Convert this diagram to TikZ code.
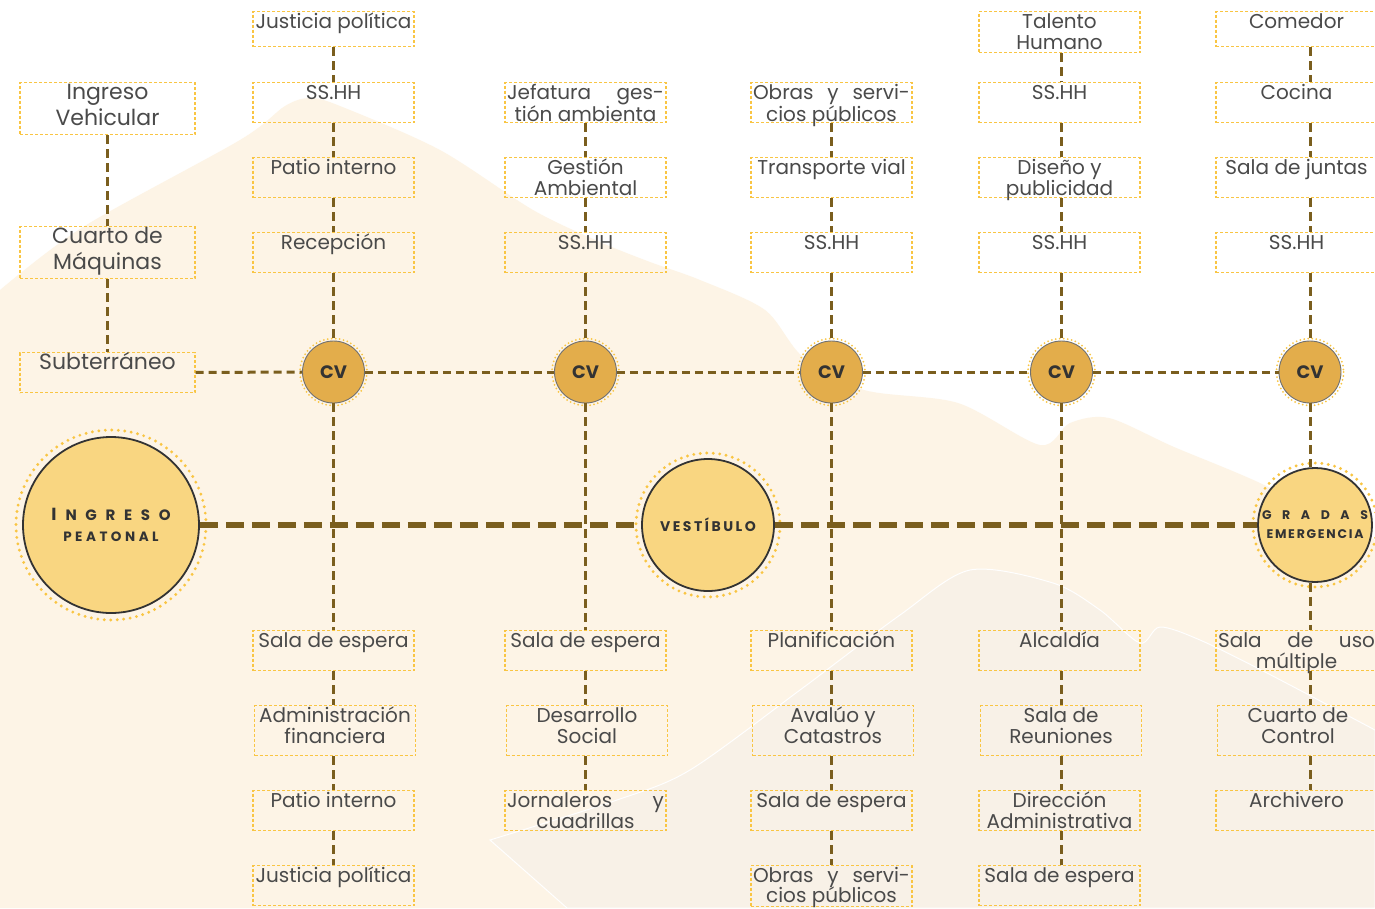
\documentclass[tikz,border=0pt]{standalone}
\usepackage{fontspec}
\setmainfont{Poppins}
\newfontfamily\letrero{Poppins}

\definecolor{crema}{HTML}{FDF4E6}
\definecolor{cremaclaro}{HTML}{F8F1E7}
\definecolor{amarillo}{HTML}{F9C543}
\definecolor{cafe}{HTML}{7A5E1E}
\definecolor{oro}{HTML}{E3AD4B}
\definecolor{pastel}{HTML}{F9D681}
\definecolor{texto}{HTML}{4A4A4A}
\definecolor{borde}{HTML}{333333}

\newcommand{\caja}[2][40]{\parbox[t][#1pt][t]{157pt}{\centering\rule{0pt}{17pt}#2}}
\newcommand{\cajaancha}[2][52]{\parbox[t][#1pt][t]{171pt}{\centering\rule{0pt}{17pt}#2}}

\tikzset{
  caja/.style={draw=amarillo, dash pattern=on 3pt off 2pt, line width=1.3pt,
    inner xsep=2pt, inner ysep=0pt, anchor=north, text=texto,
    font=\fontsize{20}{20.5}\selectfont},
  cajagrande/.style={caja, font=\fontsize{22}{26}\selectfont},
  enlace/.style={draw=cafe, line width=3pt, dash pattern=on 9pt off 5pt},
  eje/.style={draw=cafe, line width=5.5pt, dash pattern=on 18pt off 8pt},
  cv/.style={circle, fill=oro, draw=borde!70, line width=0.9pt, minimum size=62pt,
    inner sep=0pt, text=borde, font=\letrero\bfseries\fontsize{18}{18}\selectfont},
  nodo/.style={circle, fill=pastel, draw=borde, line width=1.8pt, inner sep=0pt,
    text=borde, align=center},
  anillo/.style={draw=amarillo, line width=3.2pt, line cap=round, dash pattern=on 0pt off 6.5pt},
  anillochico/.style={draw=amarillo, line width=2pt, line cap=round, dash pattern=on 0pt off 4pt}
}

\begin{document}
\begin{tikzpicture}[x=1pt, y=-1pt]
  % Lienzo
  \useasboundingbox (0,0) rectangle (1375,908);
  \clip (0,0) rectangle (1375,908);
  \fill[white] (0,0) rectangle (1375,908);
  % Montanas del fondo
  \fill[crema] plot[smooth, tension=0.5] coordinates {(0,290) (83,227) (240,140)
    (285,106) (310,98) (340,106) (440,150) (533,210) (600,242) (650,262) (700,280)
    (765,310) (803,357) (864,390) (958,403) (1040,445) (1070,423) (1109,418)
    (1174,447) (1260,483) (1375,540)} -- (1375,908) -- (0,908) -- cycle;
  \fill[cremaclaro, draw=white, line width=1pt] plot[smooth, tension=0.5] coordinates {
    (490,840) (617,800) (690,770) (800,690) (900,615) (970,570) (1053,583)
    (1100,610) (1140,643) (1160,627) (1200,640) (1267,673) (1375,730)}
    -- (1375,908) -- (567,908) -- cycle;

  % Ingreso vehicular
  \begin{scope}[xshift=107.5]
    \node[cajagrande] (vehicular) at (0,82) {\cajaancha{Ingreso\\Vehicular}};
    \node[cajagrande] (maquinas) at (0,226) {\cajaancha{Cuarto de\\Máquinas}};
    \node[cajagrande] (subte) at (0,352) {\cajaancha[40]{Subterráneo}};
    \draw[enlace] (vehicular) -- (maquinas);
    \draw[enlace] (maquinas) -- (subte);
  \end{scope}

  % Columna 1
  \begin{scope}[xshift=333.5]
    \node[caja] (justicia1) at (0,11) {\caja[35]{Justicia política}};
    \node[caja] (sshh1) at (0,82) {\caja{SS.HH}};
    \node[caja] (patio1) at (0,157) {\caja{Patio interno}};
    \node[caja] (recepcion) at (0,232) {\caja{Recepción}};
    \node[cv] (cv1) at (0,372) {CV};
    \draw[anillochico] (cv1) circle (33.5);
    \node[caja] (espera1) at (0,630) {\caja{Sala de espera}};
    \node[caja] (financiera) at (1.5,705) {\caja[50]{Administración\\financiera}};
    \node[caja] (patio1b) at (0,790) {\caja{Patio interno}};
    \node[caja] (justicia1b) at (0,865) {\caja{Justicia política}};
    \foreach \a/\b in {justicia1/sshh1, sshh1/patio1, patio1/recepcion, recepcion/cv1,
      cv1/espera1, espera1/financiera, financiera/patio1b, patio1b/justicia1b}
      \draw[enlace] (\a.south -| cv1) -- (\b.north -| cv1);
  \end{scope}

  % Columna 2
  \begin{scope}[xshift=585.5]
    \node[caja] (jefatura) at (0,82) {\caja{Jefatura\hfill ges-\\tión ambienta}};
    \node[caja] (gestion) at (0,157) {\caja{Gestión\\Ambiental}};
    \node[caja] (sshh2) at (0,232) {\caja{SS.HH}};
    \node[cv] (cv2) at (0,372) {CV};
    \draw[anillochico] (cv2) circle (33.5);
    \node[caja] (espera2) at (0,630) {\caja{Sala de espera}};
    \node[caja] (desarrollo) at (1.5,705) {\caja[50]{Desarrollo\\Social}};
    \node[caja] (jornaleros) at (0,790) {\caja{Jornaleros\hfill y\\cuadrillas}};
    \foreach \a/\b in {jefatura/gestion, gestion/sshh2, sshh2/cv2, cv2/espera2,
      espera2/desarrollo, desarrollo/jornaleros}
      \draw[enlace] (\a.south -| cv2) -- (\b.north -| cv2);
  \end{scope}

  % Columna 3
  \begin{scope}[xshift=831.5]
    \node[caja] (obras) at (0,82) {\caja{Obras\hfill y\hfill servi-\\cios públicos}};
    \node[caja] (transporte) at (0,157) {\caja{Transporte vial}};
    \node[caja] (sshh3) at (0,232) {\caja{SS.HH}};
    \node[cv] (cv3) at (0,372) {CV};
    \draw[anillochico] (cv3) circle (33.5);
    \node[caja] (planificacion) at (0,630) {\caja{Planificación}};
    \node[caja] (avaluo) at (1.5,705) {\caja[50]{Avalúo y\\Catastros}};
    \node[caja] (espera3) at (0,790) {\caja{Sala de espera}};
    \node[caja] (obrasb) at (0,865) {\caja[41]{Obras\hfill y\hfill servi-\\[-1.5pt]cios públicos}};
    \foreach \a/\b in {obras/transporte, transporte/sshh3, sshh3/cv3, cv3/planificacion,
      planificacion/avaluo, avaluo/espera3, espera3/obrasb}
      \draw[enlace] (\a.south -| cv3) -- (\b.north -| cv3);
  \end{scope}

  % Columna 4
  \begin{scope}[xshift=1059.5]
    \node[caja] (talento) at (0,11) {\caja[41]{Talento\\Humano}};
    \node[caja] (sshh4) at (0,82) {\caja{SS.HH}};
    \node[caja] (diseno) at (0,157) {\caja{Diseño y\\publicidad}};
    \node[caja] (sshh4b) at (0,232) {\caja{SS.HH}};
    \node[cv] (cv4) at (2,372) {CV};
    \draw[anillochico] (cv4) circle (33.5);
    \node[caja] (alcaldia) at (0,630) {\caja{Alcaldía}};
    \node[caja] (reuniones) at (1.5,705) {\caja[50]{Sala de\\Reuniones}};
    \node[caja] (direccion) at (0,790) {\caja{Dirección\\Administrativa}};
    \node[caja] (espera4) at (0,865) {\caja{Sala de espera}};
    \foreach \a/\b in {talento/sshh4, sshh4/diseno, diseno/sshh4b, sshh4b/cv4,
      cv4/alcaldia, alcaldia/reuniones, reuniones/direccion, direccion/espera4}
      \draw[enlace] (\a.south -| cv4) -- (\b.north -| cv4);
  \end{scope}

  % Columna 5
  \begin{scope}[xshift=1296.5]
    \node[caja] (comedor) at (0,11) {\caja[35]{Comedor}};
    \node[caja] (cocina) at (0,82) {\caja{Cocina}};
    \node[caja] (juntas) at (0,157) {\caja{Sala de juntas}};
    \node[caja] (sshh5) at (0,232) {\caja{SS.HH}};
    \node[cv] (cv5) at (13.5,372) {CV};
    \draw[anillochico] (cv5) circle (33.5);
    \node[nodo, minimum size=114pt] (gradas) at (18.5,525)
      {{\letrero\bfseries\addfontfeature{LetterSpace=85}\fontsize{12.5}{12.5}\selectfont GRADAS}\\[7pt]
       {\letrero\bfseries\addfontfeature{LetterSpace=14}\fontsize{12.5}{12.5}\selectfont EMERGENCIA}};
    \draw[anillo] (gradas) circle (62);
    \node[caja] (multiple) at (0,630) {\caja{Sala\hfill de\hfill uso\\múltiple}};
    \node[caja] (control) at (1.5,705) {\caja[50]{Cuarto de\\Control}};
    \node[caja] (archivero) at (0,790) {\caja{Archivero}};
    \foreach \a/\b in {comedor/cocina, cocina/juntas, juntas/sshh5, sshh5/cv5,
      cv5/gradas, gradas/multiple, multiple/control, control/archivero}
      \draw[enlace] (\a.south -| cv5) -- (\b.north -| cv5);
  \end{scope}

  % Circulacion vertical
  \foreach \a/\b in {subte/cv1, cv1/cv2, cv2/cv3, cv3/cv4, cv4/cv5}
    \draw[enlace, dash pattern=on 8pt off 5pt] (\a) -- (\b);

  % Eje peatonal
  \node[nodo, minimum size=176pt] (peatonal) at (111,525)
    {{\letrero\bfseries\fontsize{17.5}{17.5}\selectfont I}\hspace{9pt}{\letrero\bfseries\addfontfeature{LetterSpace=58}\fontsize{15}{15}\selectfont NGRESO}\\[9pt]
     {\letrero\bfseries\addfontfeature{LetterSpace=26}\fontsize{13.5}{13.5}\selectfont PEATONAL}};
  \draw[anillo] (peatonal) circle (95);
  \node[nodo, minimum size=132pt] (vestibulo) at (708,525)
    {\letrero\bfseries\addfontfeature{LetterSpace=18}\fontsize{14}{14}\selectfont VESTÍBULO};
  \draw[anillo] (vestibulo) circle (72);
  \draw[eje] (peatonal) -- (vestibulo);
  \draw[eje] (vestibulo) -- (gradas);
\end{tikzpicture}
\end{document}
